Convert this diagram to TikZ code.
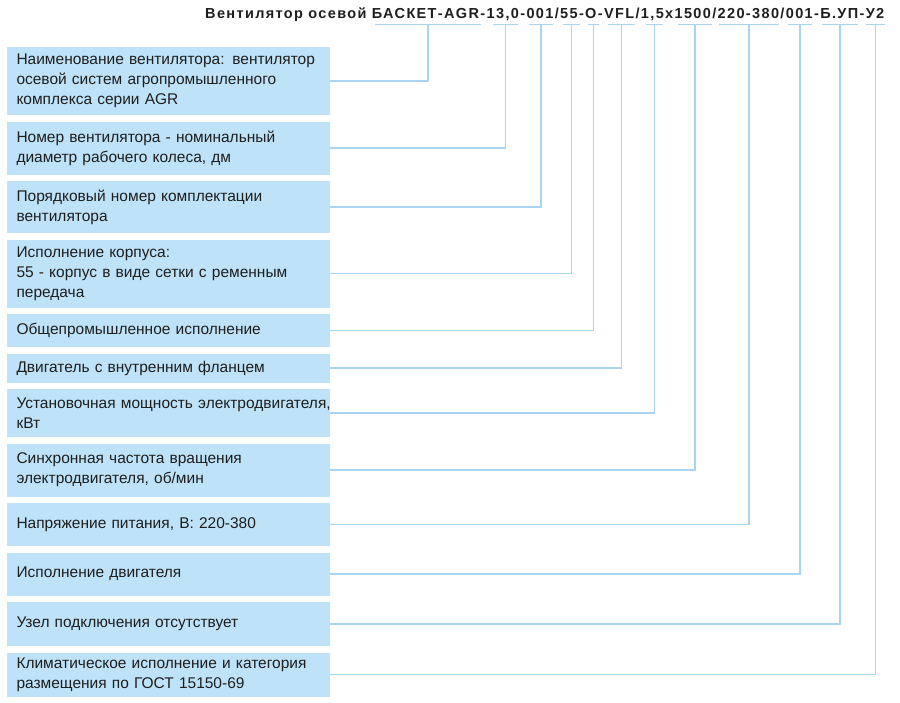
\documentclass[tikz,border=0pt]{standalone}
\usepackage{fontspec}
\setmainfont{Liberation Sans}
\newfontfamily\headfont{Liberation Sans}[LetterSpace=9.4]
\usetikzlibrary{positioning}
\usetikzlibrary{calc}
\definecolor{boxblue}{RGB}{190,227,248}
\definecolor{lineblue}{RGB}{168,214,240}
\definecolor{textgray}{RGB}{30,30,30}

\begin{document}
\begin{tikzpicture}
            [
                x=1pt, y=-1pt,
                spec/.style={rectangle, fill=boxblue, anchor=north west, align=left, inner xsep=9.5pt, inner ysep=0pt, outer sep=0pt,
                             text width=304pt, text=textgray, font=\fontsize{15.5}{20}\selectfont},
                head/.style={anchor=base west, inner sep=0pt, text=textgray, font=\headfont\bfseries\fontsize{14.5}{16}\selectfont},
                link/.style={draw=lineblue, line width=1.3pt}
            ]
            \useasboundingbox (0,0) rectangle (900,702);
            %nodes
            \node[head] at (205,18.3)                                  (head)        {Вентилятор осевой БАСКЕТ-AGR-13,0-001/55-O-VFL/1,5x1500/220-380/001-Б.УП-У2};
            \node[spec, minimum height=68pt] at (7,47)                 (name_box)    {Наименование вентилятора: вентилятор\\осевой систем агропромышленного\\комплекса серии AGR};
            \node[spec, minimum height=53pt, below=6.5pt of name_box]    (size_box)    {Номер вентилятора - номинальный\\диаметр рабочего колеса, дм};
            \node[spec, minimum height=52pt, below=6.5pt of size_box]    (set_box)     {Порядковый номер комплектации\\вентилятора};
            \node[spec, minimum height=68pt, below=6.5pt of set_box]     (case_box)    {Исполнение корпуса:\\55 - корпус в виде сетки с ременным\\передача};
            \node[spec, minimum height=33pt, below=6.5pt of case_box]    (make_box)    {Общепромышленное исполнение};
            \node[spec, minimum height=29pt, below=6.5pt of make_box]    (flange_box)  {Двигатель с внутренним фланцем};
            \node[spec, minimum height=48pt, below=6.5pt of flange_box]  (power_box)   {\mbox{Установочная мощность электродвигателя,}\\кВт};
            \node[spec, minimum height=53pt, below=6.5pt of power_box]   (speed_box)   {Синхронная частота вращения\\электродвигателя, об/мин};
            \node[spec, minimum height=43pt, below=6.5pt of speed_box]   (volt_box)    {Напряжение питания, В: 220-380};
            \node[spec, minimum height=43pt, below=6.5pt of volt_box]    (motor_box)   {Исполнение двигателя};
            \node[spec, minimum height=44pt, below=6.5pt of motor_box]   (plug_box)    {Узел подключения отсутствует};
            \node[spec, minimum height=44pt, below=6.5pt of plug_box]    (climate_box) {Климатическое исполнение и категория\\размещения по ГОСТ 15150-69};
            %code parts under the title
            \coordinate (name_l)    at (375,24.5);  \coordinate (name_r)    at (481,24.5);
            \coordinate (size_l)    at (493,24.5);  \coordinate (size_r)    at (518,24.5);
            \coordinate (set_l)     at (529,24.5);  \coordinate (set_r)     at (553,24.5);
            \coordinate (case_l)    at (563,24.5);  \coordinate (case_r)    at (580,24.5);
            \coordinate (make_l)    at (588,24.5);  \coordinate (make_r)    at (599,24.5);
            \coordinate (flange_l)  at (608,24.5);  \coordinate (flange_r)  at (635,24.5);
            \coordinate (power_l)   at (646,24.5);  \coordinate (power_r)   at (663,24.5);
            \coordinate (speed_l)   at (678,24.5);  \coordinate (speed_r)   at (712,24.5);
            \coordinate (volt_l)    at (719,24.5);  \coordinate (volt_r)    at (779,24.5);
            \coordinate (motor_l)   at (788,24.5);  \coordinate (motor_r)   at (812,24.5);
            \coordinate (plug_l)    at (822,24.5);  \coordinate (plug_r)    at (858,24.5);
            \coordinate (climate_l) at (866,24.5);  \coordinate (climate_r) at (885,24.5);
            \draw[link] (name_l) -- (name_r);
            \draw[link] (size_l) -- (size_r);
            \draw[link] (set_l) -- (set_r);
            \draw[link] (case_l) -- (case_r);
            \draw[link] (make_l) -- (make_r);
            \draw[link] (flange_l) -- (flange_r);
            \draw[link] (power_l) -- (power_r);
            \draw[link] (speed_l) -- (speed_r);
            \draw[link] (volt_l) -- (volt_r);
            \draw[link] (motor_l) -- (motor_r);
            \draw[link] (plug_l) -- (plug_r);
            \draw[link] (climate_l) -- (climate_r);
            %lines
            \draw[link] ($(name_l)!0.5!(name_r)$) |- (name_box.east);
            \draw[link] ($(size_l)!0.5!(size_r)$) |- (size_box.east);
            \draw[link] ($(set_l)!0.5!(set_r)$) |- (set_box.east);
            \draw[link] ($(case_l)!0.5!(case_r)$) |- (case_box.east);
            \draw[link] ($(make_l)!0.5!(make_r)$) |- (make_box.east);
            \draw[link] ($(flange_l)!0.5!(flange_r)$) |- (flange_box.east);
            \draw[link] ($(power_l)!0.5!(power_r)$) |- (power_box.east);
            \draw[link] ($(speed_l)!0.5!(speed_r)$) |- (speed_box.east);
            \draw[link] ($(volt_l)!0.5!(volt_r)$) |- (volt_box.east);
            \draw[link] ($(motor_l)!0.5!(motor_r)$) |- (motor_box.east);
            \draw[link] ($(plug_l)!0.5!(plug_r)$) |- (plug_box.east);
            \draw[link] ($(climate_l)!0.5!(climate_r)$) |- (climate_box.east);
        \end{tikzpicture}
\end{document}
